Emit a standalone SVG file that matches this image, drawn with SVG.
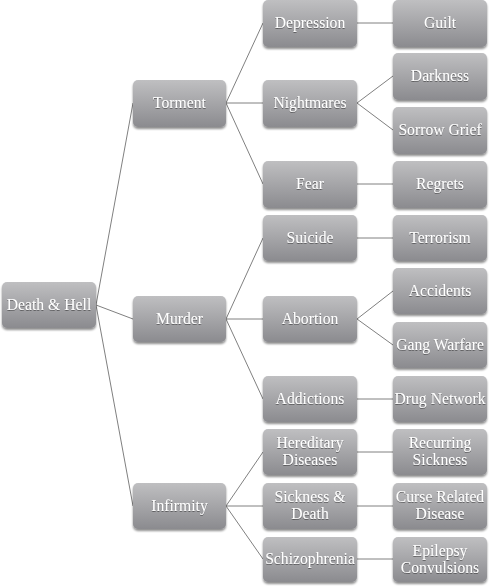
<svg xmlns="http://www.w3.org/2000/svg" width="490" height="587" viewBox="0 0 490 587">
<defs>
<linearGradient id="g" x1="0" y1="0" x2="0" y2="1">
<stop offset="0" stop-color="#bfbfc1"/>
<stop offset="1" stop-color="#8b8b8f"/>
</linearGradient>
<filter id="sh" x="-10%" y="-10%" width="120%" height="130%">
<feGaussianBlur in="SourceAlpha" stdDeviation="1.2"/>
<feOffset dy="1.5"/>
<feComponentTransfer><feFuncA type="linear" slope="0.45"/></feComponentTransfer>
<feMerge><feMergeNode/><feMergeNode in="SourceGraphic"/></feMerge>
</filter>
<filter id="ts" x="-10%" y="-20%" width="120%" height="140%">
<feGaussianBlur in="SourceAlpha" stdDeviation="0.6"/>
<feOffset dy="0.6"/>
<feComponentTransfer><feFuncA type="linear" slope="0.4"/></feComponentTransfer>
<feMerge><feMergeNode/><feMergeNode in="SourceGraphic"/></feMerge>
</filter>
</defs>
<style>
.b{fill:url(#g);filter:url(#sh)}
.t{font-family:"Liberation Serif","Times New Roman",serif;font-size:15.7px;fill:#ffffff;text-anchor:middle;filter:url(#ts)}
.c{stroke:#808080;stroke-width:1;fill:none}
</style>
<rect width="490" height="587" fill="#ffffff"/>
<g id="connectors" class="c">
<path d="M96,305 L133,103 M96,305 L133,319 M96,305 L133,506"/>
<path d="M226,103 L263,23 M226,103 L263,103 M226,103 L263,184"/>
<path d="M357,23 L393,23 M357,103 L393,76 M357,103 L393,130 M357,184 L393,184"/>
<path d="M226,319 L263,238 M226,319 L263,319 M226,319 L263,399"/>
<path d="M357,238 L393,238 M357,319 L393,291 M357,319 L393,345 M357,399 L393,399"/>
<path d="M226,506 L263,452 M226,506 L263,506 M226,506 L263,559"/>
<path d="M357,452 L393,452 M357,506 L393,506 M357,559 L393,559"/>
</g>
<g id="n-death"><rect class="b" x="2" y="282" width="94" height="46" rx="5"/><text class="t" x="49" y="310">Death &amp; Hell</text></g>
<g id="n-torment"><rect class="b" x="133" y="80" width="93" height="47" rx="5"/><text class="t" x="179.5" y="108">Torment</text></g>
<g id="n-murder"><rect class="b" x="133" y="296" width="93" height="46" rx="5"/><text class="t" x="179.5" y="324">Murder</text></g>
<g id="n-infirmity"><rect class="b" x="133" y="483" width="93" height="46" rx="5"/><text class="t" x="179.5" y="511">Infirmity</text></g>
<g id="n-depression"><rect class="b" x="263" y="0" width="94" height="47" rx="5"/><text class="t" x="310" y="28">Depression</text></g>
<g id="n-nightmares"><rect class="b" x="263" y="80" width="94" height="47" rx="5"/><text class="t" x="310" y="108">Nightmares</text></g>
<g id="n-fear"><rect class="b" x="263" y="161" width="94" height="47" rx="5"/><text class="t" x="310" y="189">Fear</text></g>
<g id="n-suicide"><rect class="b" x="263" y="215" width="94" height="46" rx="5"/><text class="t" x="310" y="243">Suicide</text></g>
<g id="n-abortion"><rect class="b" x="263" y="296" width="94" height="46" rx="5"/><text class="t" x="310" y="324">Abortion</text></g>
<g id="n-addictions"><rect class="b" x="263" y="376" width="94" height="46" rx="5"/><text class="t" x="310" y="404">Addictions</text></g>
<g id="n-hereditary"><rect class="b" x="263" y="429" width="94" height="46" rx="5"/><text class="t" x="310" y="448">Hereditary</text><text class="t" x="310" y="465">Diseases</text></g>
<g id="n-sickness"><rect class="b" x="263" y="483" width="94" height="46" rx="5"/><text class="t" x="310" y="502">Sickness &amp;</text><text class="t" x="310" y="519">Death</text></g>
<g id="n-schizo"><rect class="b" x="263" y="537" width="94" height="45" rx="5"/><text class="t" x="310" y="564">Schizophrenia</text></g>
<g id="n-guilt"><rect class="b" x="393" y="0" width="94" height="47" rx="5"/><text class="t" x="440" y="28">Guilt</text></g>
<g id="n-darkness"><rect class="b" x="393" y="53" width="94" height="47" rx="5"/><text class="t" x="440" y="81">Darkness</text></g>
<g id="n-sorrow"><rect class="b" x="393" y="107" width="94" height="47" rx="5"/><text class="t" x="440" y="135">Sorrow Grief</text></g>
<g id="n-regrets"><rect class="b" x="393" y="161" width="94" height="47" rx="5"/><text class="t" x="440" y="189">Regrets</text></g>
<g id="n-terrorism"><rect class="b" x="393" y="215" width="94" height="46" rx="5"/><text class="t" x="440" y="243">Terrorism</text></g>
<g id="n-accidents"><rect class="b" x="393" y="268" width="94" height="46" rx="5"/><text class="t" x="440" y="296">Accidents</text></g>
<g id="n-gang"><rect class="b" x="393" y="322" width="94" height="46" rx="5"/><text class="t" x="440" y="350">Gang Warfare</text></g>
<g id="n-drug"><rect class="b" x="393" y="376" width="94" height="46" rx="5"/><text class="t" x="440" y="404">Drug Network</text></g>
<g id="n-recurring"><rect class="b" x="393" y="429" width="94" height="46" rx="5"/><text class="t" x="440" y="448">Recurring</text><text class="t" x="440" y="465">Sickness</text></g>
<g id="n-curse"><rect class="b" x="393" y="483" width="94" height="46" rx="5"/><text class="t" x="440" y="502">Curse Related</text><text class="t" x="440" y="519">Disease</text></g>
<g id="n-epilepsy"><rect class="b" x="393" y="537" width="94" height="45" rx="5"/><text class="t" x="440" y="556">Epilepsy</text><text class="t" x="440" y="573">Convulsions</text></g>
</svg>
